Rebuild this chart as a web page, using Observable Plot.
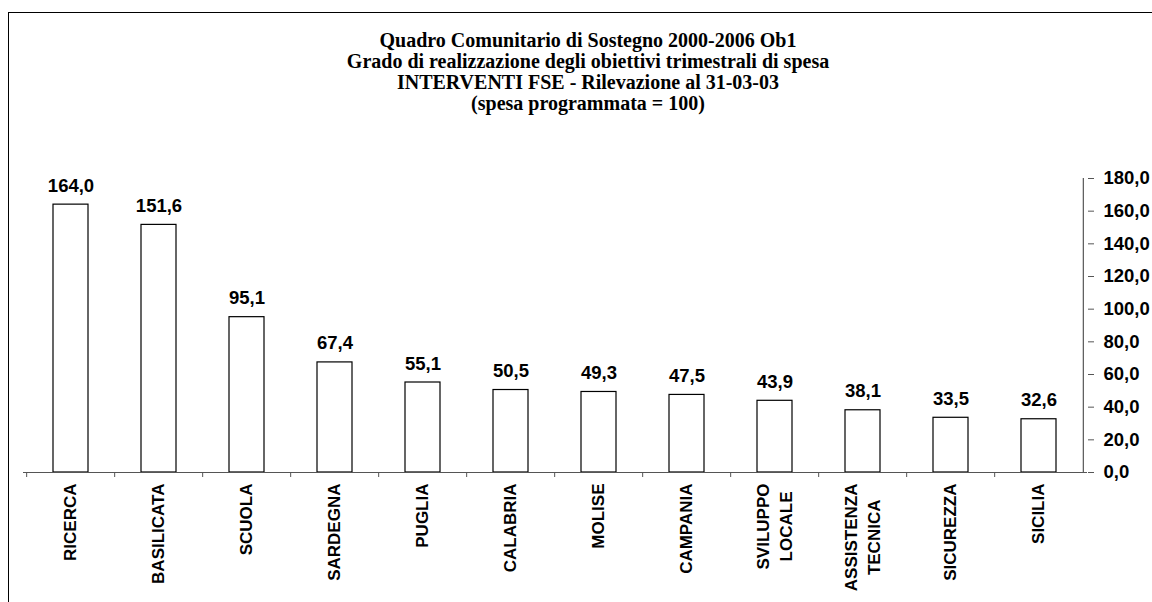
<!DOCTYPE html>
<html><head><meta charset="utf-8">
<script src="https://cdn.jsdelivr.net/npm/d3@7"></script>
<script src="https://cdn.jsdelivr.net/npm/@observablehq/plot@0.6"></script>
<style>
body{margin:0;background:#fff;width:1152px;height:602px;overflow:hidden;position:relative;}
#frame{position:absolute;left:8px;top:12px;width:1300px;height:800px;border-left:1px solid #000;border-top:1px solid #000;}
#title{position:absolute;left:0;width:1176px;top:30px;text-align:center;font-family:"Liberation Serif","Times New Roman",serif;font-weight:bold;font-size:20px;line-height:21px;color:#000;}
#chart{position:absolute;left:0;top:0;}
</style></head><body>
<div id="frame"></div>
<div id="title"></div>
<div id="chart"></div>
<script>
const titleLines = [
  "Quadro Comunitario di Sostegno 2000-2006 Ob1",
  "Grado di realizzazione degli obiettivi trimestrali di spesa",
  "INTERVENTI FSE - Rilevazione al 31-03-03",
  "(spesa programmata = 100)"
];
const categories = ["RICERCA","BASILICATA","SCUOLA","SARDEGNA","PUGLIA","CALABRIA","MOLISE","CAMPANIA","SVILUPPO\nLOCALE","ASSISTENZA\nTECNICA","SICUREZZA","SICILIA"];
const values = [164.0,151.6,95.1,67.4,55.1,50.5,49.3,47.5,43.9,38.1,33.5,32.6];
const yTicks = [0,20,40,60,80,100,120,140,160,180];

document.getElementById("title").innerHTML = titleLines.join("<br>");

const W = 1152, H = 602, mL = 23, mR = 65, mT = 178, mB = 130;
const step = (W - mL - mR) / categories.length;
const fmt = d => d.toFixed(1).replace(".", ",");
const data = categories.map((c, i) => ({cat: c, value: values[i]}));
const labelSize = 17;
const ctx = document.createElement("canvas").getContext("2d");
ctx.font = `bold ${labelSize}px 'Liberation Sans'`;
const single = categories.filter(c => !c.includes("\n"));
const multi = categories.filter(c => c.includes("\n"));
const labelTop = 11;

const multiMarks = multi.map(c => {
  const L = Math.max(...c.split("\n").map(s => ctx.measureText(s).width));
  return Plot.text([c], {x: d => d, y: 0, text: d => d, rotate: -90, textAnchor: "middle",
    dy: labelTop + L / 2, dx: -2, fontSize: labelSize, fontWeight: "bold", fill: "#000", lineHeight: 1.34});
});

const chart = Plot.plot({
  width: W, height: H,
  marginLeft: mL, marginRight: mR, marginTop: mT, marginBottom: mB,
  style: {background: "transparent", fontFamily: "Liberation Sans", color: "#000", overflow: "visible"},
  x: {domain: categories, paddingInner: 0.6, paddingOuter: 0.3, label: null},
  y: {domain: [0, 180], label: null},
  marks: [
    Plot.barY(data, {x: "cat", y: "value", fill: "white", stroke: "#000", strokeWidth: 1.2}),
    Plot.ruleY([0], {stroke: "#555", strokeWidth: 1.2}),
    Plot.ruleX([categories[categories.length - 1]], {x: d => d, y1: 0, y2: 180, dx: step / 2, stroke: "#555", strokeWidth: 1.2}),
    Plot.axisX({ticks: categories, tickSize: 5, tickFormat: () => "", dx: -step / 2, stroke: "#555", label: null}),
    Plot.axisY({ticks: yTicks, anchor: "right", tickSize: 6, tickPadding: 10, tickFormat: fmt, label: null,
      fontSize: 18.5, fontWeight: "bold", fill: "#000", stroke: "#555"}),
    Plot.text(data, {x: "cat", y: "value", text: d => fmt(d.value), lineAnchor: "bottom", dy: -13,
      fontSize: 18.5, fontWeight: "bold", fill: "#000"}),
    Plot.text(single, {x: d => d, y: 0, text: d => d, rotate: -90, textAnchor: "end", dy: labelTop,
      fontSize: labelSize, fontWeight: "bold", fill: "#000"}),
    ...multiMarks
  ]
});
document.getElementById("chart").appendChild(chart);
</script>
</body></html>
